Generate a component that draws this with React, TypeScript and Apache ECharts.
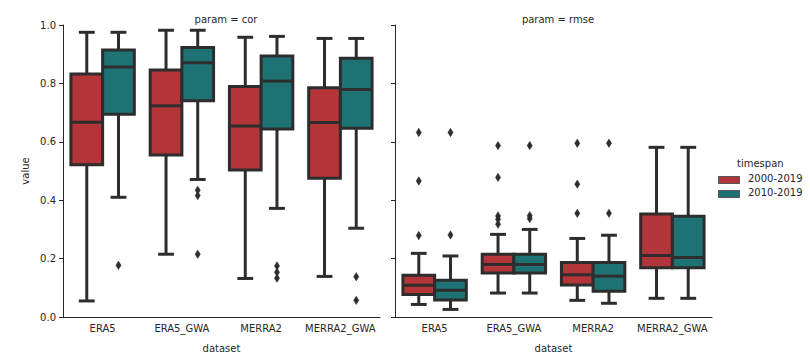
import React, { useEffect, useRef } from "react";
import * as echarts from "echarts";

const datasets = ["ERA5", "ERA5_GWA", "MERRA2", "MERRA2_GWA"];
const timespans = ["2000-2019", "2010-2019"];
const panelTitles = ["param = cor", "param = rmse"];
const yTicks = [0, 0.2, 0.4, 0.6, 0.8, 1.0];

// [whiskerLow, q1, median, q3, whiskerHigh] per dataset
const cor2000 = [
  [0.055, 0.521, 0.667, 0.832, 0.975],
  [0.215, 0.555, 0.723, 0.846, 0.982],
  [0.132, 0.503, 0.654, 0.789, 0.958],
  [0.139, 0.475, 0.666, 0.785, 0.954],
];
const cor2010 = [
  [0.41, 0.694, 0.856, 0.914, 0.975],
  [0.471, 0.741, 0.871, 0.923, 0.982],
  [0.372, 0.644, 0.808, 0.894, 0.961],
  [0.304, 0.646, 0.779, 0.886, 0.954],
];
const rmse2000 = [
  [0.043, 0.077, 0.109, 0.143, 0.218],
  [0.082, 0.151, 0.18, 0.215, 0.283],
  [0.057, 0.11, 0.145, 0.187, 0.269],
  [0.064, 0.169, 0.211, 0.353, 0.581],
];
const rmse2010 = [
  [0.026, 0.058, 0.092, 0.126, 0.209],
  [0.082, 0.151, 0.18, 0.215, 0.3],
  [0.047, 0.088, 0.14, 0.187, 0.28],
  [0.064, 0.169, 0.204, 0.345, 0.581],
];

// outliers: [datasetIndex, value]
const corOut2000: number[][] = [];
const corOut2010 = [
  [0, 0.177],
  [1, 0.434],
  [1, 0.416],
  [1, 0.215],
  [2, 0.175],
  [2, 0.153],
  [2, 0.133],
  [3, 0.138],
  [3, 0.057],
];
const rmseOut2000 = [
  [0, 0.632],
  [0, 0.466],
  [0, 0.279],
  [1, 0.587],
  [1, 0.478],
  [1, 0.346],
  [1, 0.335],
  [1, 0.318],
  [2, 0.595],
  [2, 0.455],
  [2, 0.355],
];
const rmseOut2010 = [
  [0, 0.632],
  [0, 0.281],
  [1, 0.587],
  [1, 0.347],
  [1, 0.337],
  [2, 0.595],
  [2, 0.355],
];

const RED = "#b33539";
const TEAL = "#1e7274";
const EDGE = "#2d2d2d";
const TEXT = "#262626";
const FONT = "DejaVu Sans";

function boxRender(offsetFrac: number, fill: string) {
  return (_params: any, api: any) => {
    const cat = api.value(0);
    const band = api.size([1, 0])[0];
    const boxW = band * 0.4;
    const cx = api.coord([cat, 0])[0] + offsetFrac * band;
    const yLow = api.coord([cat, api.value(1)])[1];
    const yQ1 = api.coord([cat, api.value(2)])[1];
    const yMed = api.coord([cat, api.value(3)])[1];
    const yQ3 = api.coord([cat, api.value(4)])[1];
    const yHigh = api.coord([cat, api.value(5)])[1];
    const ls = { stroke: EDGE, lineWidth: 3 };
    const capHalf = boxW / 4;
    return {
      type: "group",
      children: [
        { type: "line", shape: { x1: cx, y1: yQ3, x2: cx, y2: yHigh }, style: ls },
        { type: "line", shape: { x1: cx, y1: yQ1, x2: cx, y2: yLow }, style: ls },
        { type: "line", shape: { x1: cx - capHalf, y1: yHigh, x2: cx + capHalf, y2: yHigh }, style: ls },
        { type: "line", shape: { x1: cx - capHalf, y1: yLow, x2: cx + capHalf, y2: yLow }, style: ls },
        {
          type: "rect",
          shape: { x: cx - boxW / 2, y: yQ3, width: boxW, height: yQ1 - yQ3 },
          style: { fill, stroke: EDGE, lineWidth: 3 },
        },
        { type: "line", shape: { x1: cx - boxW / 2, y1: yMed, x2: cx + boxW / 2, y2: yMed }, style: ls },
      ],
    };
  };
}

function outlierRender(offsetFrac: number) {
  return (_params: any, api: any) => {
    const cat = api.value(0);
    const band = api.size([1, 0])[0];
    const p = api.coord([cat, api.value(1)]);
    const cx = p[0] + offsetFrac * band;
    const cy = p[1];
    return {
      type: "polygon",
      shape: {
        points: [
          [cx, cy - 4.2],
          [cx + 2.6, cy],
          [cx, cy + 4.2],
          [cx - 2.6, cy],
        ],
      },
      style: { fill: EDGE, stroke: EDGE, lineWidth: 0.5 },
    };
  };
}

export default function App() {
  const ref = useRef<HTMLDivElement>(null);
  useEffect(() => {
    if (!ref.current) return;
    const chart = echarts.init(ref.current, null, { renderer: "svg" });
    const grids = [
      { left: 63, top: 25, width: 317, height: 292 },
      { left: 395, top: 25, width: 317, height: 292 },
    ];
    const xAxes = grids.map((_g, i) => ({
      type: "category",
      gridIndex: i,
      data: datasets,
      boundaryGap: true,
      name: "dataset",
      nameLocation: "middle",
      nameGap: 26,
      nameTextStyle: { color: TEXT, fontFamily: FONT, fontSize: 10 },
      axisLine: { lineStyle: { color: TEXT, width: 1 } },
      axisTick: { alignWithLabel: true, interval: 0, length: 4, lineStyle: { color: TEXT } },
      axisLabel: { color: TEXT, fontFamily: FONT, fontSize: 10, margin: 6, interval: 0, hideOverlap: false },
      splitLine: { show: false },
    }));
    const yAxes = grids.map((_g, i) => ({
      type: "value",
      gridIndex: i,
      min: yTicks[0],
      max: yTicks[yTicks.length - 1],
      interval: 0.2,
      name: i === 0 ? "value" : "",
      nameLocation: "middle",
      nameGap: 33,
      nameTextStyle: { color: TEXT, fontFamily: FONT, fontSize: 10 },
      axisLine: { show: true, lineStyle: { color: TEXT, width: 1 } },
      axisTick: { show: true, length: 4, lineStyle: { color: TEXT } },
      axisLabel: {
        show: i === 0,
        color: TEXT,
        fontFamily: FONT,
        fontSize: 10,
        margin: 7,
        formatter: (v: number) => v.toFixed(1),
      },
      splitLine: { show: false },
    }));

    const boxSets = [
      [cor2000, cor2010],
      [rmse2000, rmse2010],
    ];
    const outSets = [
      [corOut2000, corOut2010],
      [rmseOut2000, rmseOut2010],
    ];
    const fills = [RED, TEAL];
    const offsets = [-0.2, 0.2];
    const series: any[] = [];
    for (let p = 0; p < 2; p++) {
      for (let t = 0; t < 2; t++) {
        series.push({
          type: "custom",
          name: timespans[t],
          xAxisIndex: p,
          yAxisIndex: p,
          clip: false,
          renderItem: boxRender(offsets[t], fills[t]),
          encode: { x: 0, y: [1, 2, 3, 4, 5] },
          data: boxSets[p][t].map((d, i) => [i, ...d]),
        });
        series.push({
          type: "custom",
          name: timespans[t] + " outliers",
          xAxisIndex: p,
          yAxisIndex: p,
          clip: false,
          renderItem: outlierRender(offsets[t]),
          encode: { x: 0, y: 1 },
          data: outSets[p][t],
        });
      }
    }

    const legendItems: any[] = [
      {
        type: "text",
        left: 737,
        top: 158,
        style: { text: "timespan", fill: TEXT, font: `10px "${FONT}"` },
      },
    ];
    timespans.forEach((ts, i) => {
      legendItems.push({
        type: "rect",
        left: 718,
        top: 176 + i * 14,
        shape: { width: 21, height: 7 },
        style: { fill: fills[i], stroke: "#555555", lineWidth: 1 },
      });
      legendItems.push({
        type: "text",
        left: 748,
        top: 173.5 + i * 14,
        style: { text: ts, fill: TEXT, font: `10px "${FONT}"` },
      });
    });

    chart.setOption({
      animation: false,
      backgroundColor: "#ffffff",
      textStyle: { fontFamily: FONT },
      title: panelTitles.map((t, i) => ({
        text: t,
        left: i === 0 ? 221 : 553,
        top: 9,
        textAlign: "center",
        textStyle: { fontSize: 10, fontWeight: "normal", color: TEXT, fontFamily: FONT },
      })),
      grid: grids,
      xAxis: xAxes,
      yAxis: yAxes,
      series,
      graphic: legendItems,
    });
    return () => chart.dispose();
  }, []);
  return (
    <div
      ref={ref}
      style={{ position: "fixed", left: 0, top: 0, width: 810, height: 360, background: "#fff" }}
    />
  );
}
